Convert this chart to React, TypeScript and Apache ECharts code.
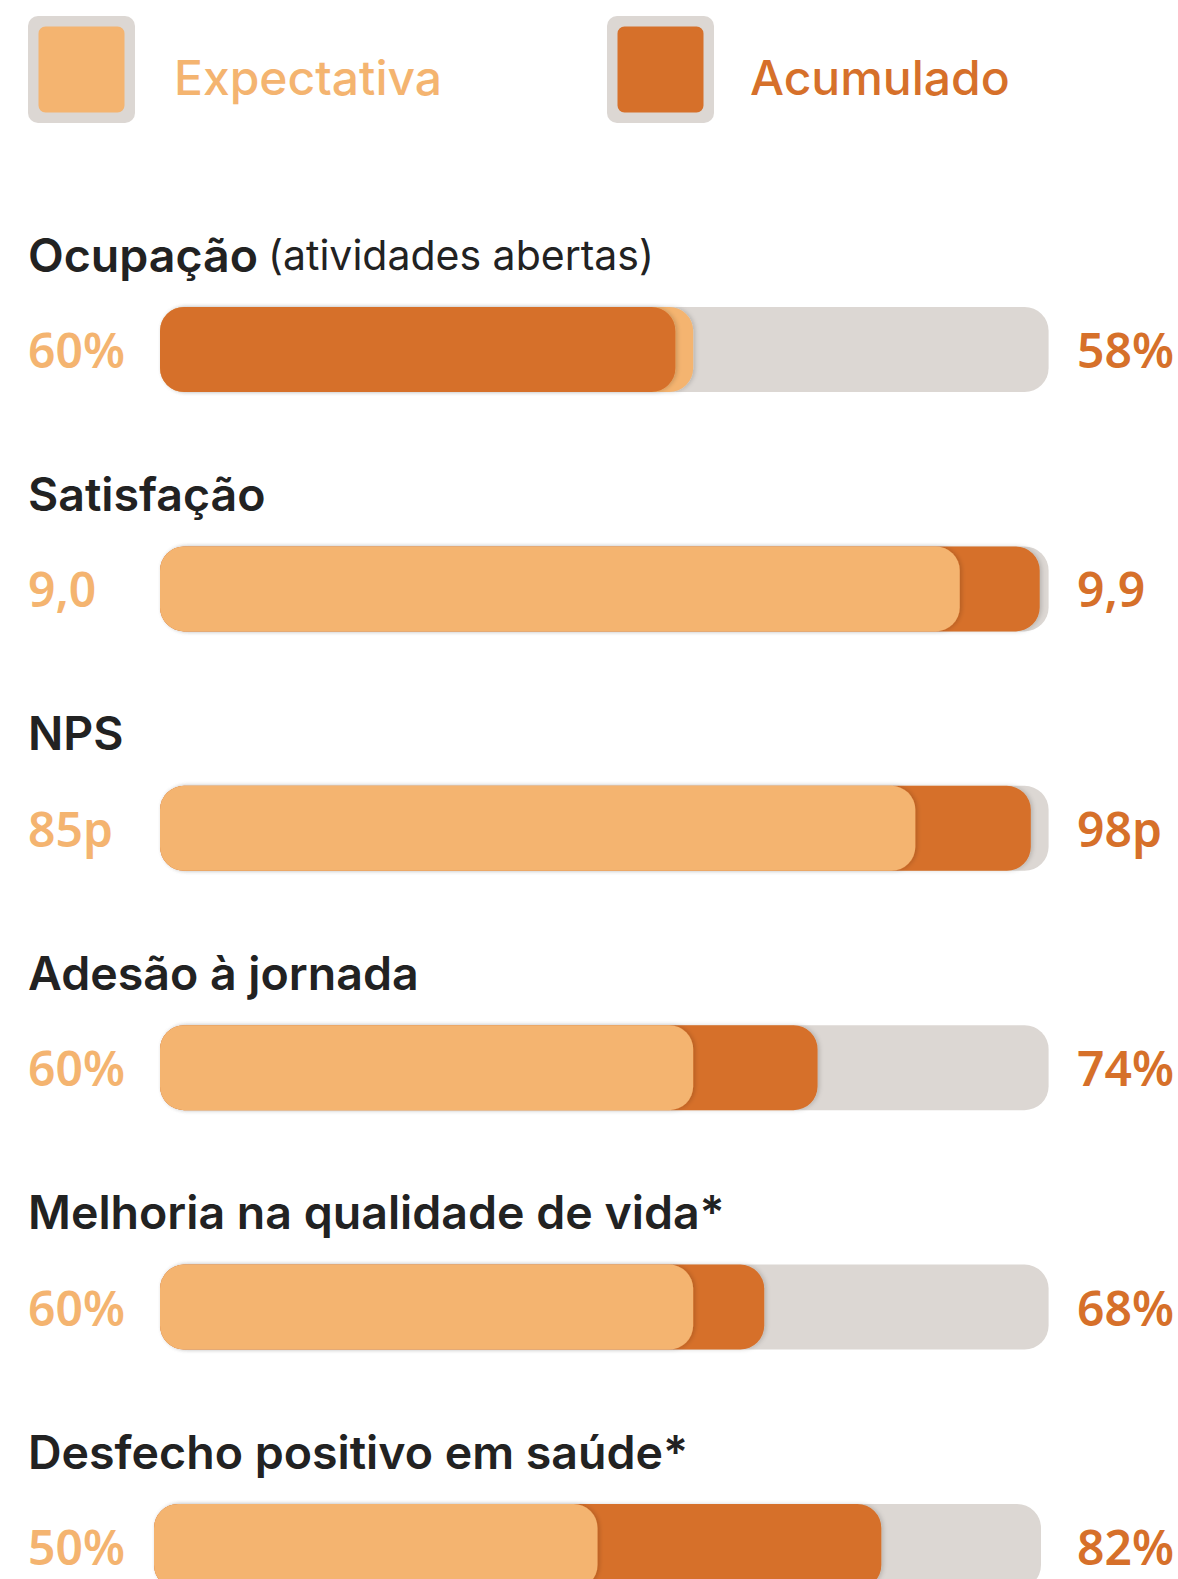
import React, { useEffect, useRef } from "react";
import * as echarts from "echarts";

const categories = [
  "Ocupação",
  "Satisfação",
  "NPS",
  "Adesão à jornada",
  "Melhoria na qualidade de vida*",
  "Desfecho positivo em saúde*",
];
const subtitles = ["(atividades abertas)", "", "", "", "", ""];
const expectativa = [60, 9.0, 85, 60, 60, 50];
const acumulado = [58, 9.9, 98, 74, 68, 82];
const scaleMax = [100, 10, 100, 100, 100, 100];
const units = ["%", "", "p", "%", "%", "%"];
const legendNames = ["Expectativa", "Acumulado"];

const LIGHT = "#F4B470";
const DARK = "#D6702A";
const TRACK = "#DCD7D3";
const INK = "#222222";
const FONT = "Inter, 'Noto Sans', sans-serif";
const NUMFONT = "'Noto Sans', Inter, sans-serif";

function fmt(v: number, i: number): string {
  const s = scaleMax[i] === 10 ? v.toFixed(1).replace(".", ",") : String(Math.round(v));
  return s + units[i];
}

export default function App() {
  const ref = useRef<HTMLDivElement>(null);
  useEffect(() => {
    document.body.style.margin = "0";
    if (!ref.current) return;
    const chart = echarts.init(ref.current, null, { renderer: "svg" });

    const rowTop0 = 307;
    const rowStep = 239.4;
    const barH = 85;

    const grids: any[] = [];
    const xAxes: any[] = [];
    const yAxes: any[] = [];
    const series: any[] = [];
    const titles: any[] = [];

    categories.forEach((cat, i) => {
      const top = rowTop0 + i * rowStep;
      const last = i === categories.length - 1;
      const left = last ? 154 : 160;
      const right = last ? 137 : 129.4;
      grids.push({ left, right, top, height: barH, containLabel: false, outerBoundsMode: "none" });
      xAxes.push({ type: "value", gridIndex: i, min: 0, max: scaleMax[i], show: false });
      yAxes.push({
        type: "category",
        gridIndex: i,
        data: [cat],
        position: "left",
        axisLine: { show: false },
        axisTick: { show: false },
        splitLine: { show: false },
        axisLabel: {
          margin: left - 28,
          align: "left",
          formatter: () => fmt(expectativa[i], i),
          color: LIGHT,
          fontFamily: NUMFONT,
          fontSize: 48,
          fontWeight: 600,
        },
      });
      yAxes.push({
        type: "category",
        gridIndex: i,
        data: [cat],
        position: "right",
        axisLine: { show: false },
        axisTick: { show: false },
        splitLine: { show: false },
        axisLabel: {
          margin: 1077 - (1178 - right),
          align: "left",
          formatter: () => fmt(acumulado[i], i),
          color: DARK,
          fontFamily: NUMFONT,
          fontSize: 48,
          fontWeight: 600,
        },
      });

      const common = {
        type: "bar",
        xAxisIndex: i,
        yAxisIndex: 2 * i,
        barWidth: barH,
        barGap: "-100%",
        silent: true,
      };
      series.push({
        ...common,
        name: "track" + i,
        data: [scaleMax[i]],
        itemStyle: { color: TRACK, borderRadius: 24 },
      });
      const pairs = [
        { v: expectativa[i], c: LIGHT, n: legendNames[0] },
        { v: acumulado[i], c: DARK, n: legendNames[1] },
      ].sort((a, b) => b.v - a.v);
      pairs.forEach((p) => {
        series.push({
          ...common,
          name: p.n,
          data: [p.v],
          itemStyle: {
            color: p.c,
            borderRadius: 24,
            shadowColor: "rgba(0,0,0,0.16)",
            shadowBlur: 4,
            shadowOffsetX: 2,
          },
        });
      });

      titles.push({
        left: 28,
        top: top - 76,
        padding: 0,
        text: subtitles[i] ? `{b|${cat}}  {r|${subtitles[i]}}` : `{b|${cat}}`,
        textStyle: {
          rich: {
            b: { fontFamily: FONT, fontSize: 46.5, fontWeight: 600, color: INK },
            r: { fontFamily: FONT, fontSize: 41, fontWeight: 400, color: INK },
          },
        },
      });
    });

    const legendItem = (x: number, color: string, textX: number, label: string) => [
      {
        type: "rect",
        shape: { x, y: 16, width: 107, height: 107, r: 10 },
        style: { fill: TRACK },
      },
      {
        type: "rect",
        shape: { x: x + 10.5, y: 26.5, width: 86, height: 86, r: 7 },
        style: { fill: color },
      },
      {
        type: "text",
        x: textX,
        y: 77,
        style: {
          text: label,
          fill: color,
          fontFamily: FONT,
          fontSize: 48,
          fontWeight: 500,
          verticalAlign: "middle",
          align: "left",
        },
      },
    ];

    chart.setOption({
      animation: false,
      backgroundColor: "#ffffff",
      title: titles,
      grid: grids,
      xAxis: xAxes,
      yAxis: yAxes,
      series,
      graphic: [
        ...legendItem(28, LIGHT, 174, legendNames[0]),
        ...legendItem(607, DARK, 750, legendNames[1]),
      ],
    });
    return () => chart.dispose();
  }, []);
  return <div ref={ref} style={{ width: 1178, height: 1579 }} />;
}
